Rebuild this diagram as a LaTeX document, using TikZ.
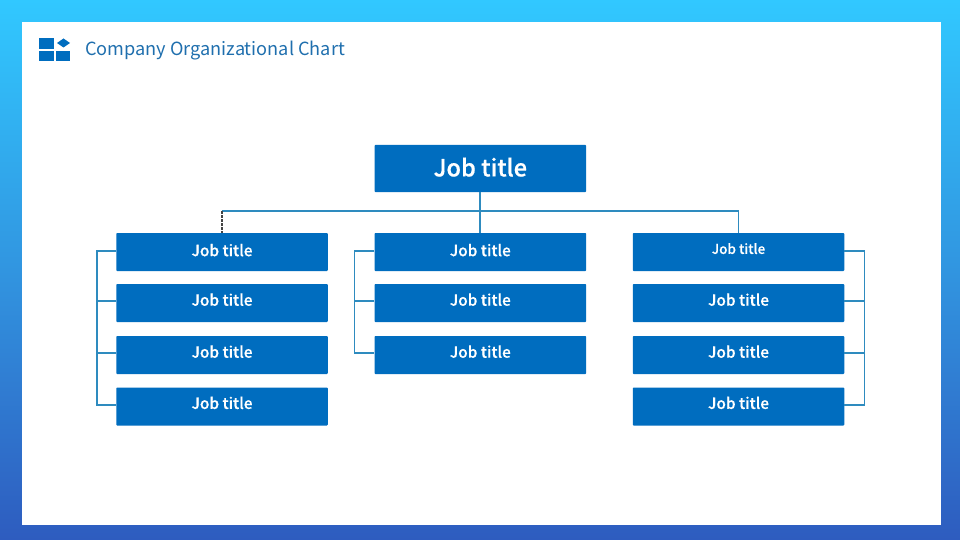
\documentclass[tikz,border=0pt]{standalone}
\usepackage{fontspec}
\setmainfont[BoldFont={Noto Sans CJK JP Medium},BoldFeatures={FakeBold=0.5}]{Noto Sans CJK JP}
\definecolor{boxblue}{HTML}{006DBF}
\definecolor{linkblue}{HTML}{2E8BBF}
\definecolor{titleblue}{HTML}{1F6FAE}
\definecolor{dashdark}{HTML}{444444}
\definecolor{bgtop}{HTML}{31C8FF}
\definecolor{bgmid}{HTML}{3195E0}
\definecolor{bgbot}{HTML}{2E5CBF}
\newcommand{\raisedtext}[2][6.9pt]{\raisebox{#1}{#2}}
\tikzset{
  jobbox/.style={fill=boxblue,draw=none,rounded corners=0.8pt,minimum width=211.5pt,minimum height=38pt,inner sep=0pt,text=white,font=\fontsize{15.4}{16}\selectfont\bfseries},
  topbox/.style={jobbox,minimum height=47pt,font=\fontsize{23.6}{24}\selectfont\bfseries},
  link/.style={draw=linkblue,line width=1.9pt},
  deco/.style={fill=boxblue,draw=none},
  up/.style={yshift=#1},
}
\begin{document}
\begin{tikzpicture}[x=1pt,y=-1pt]
\useasboundingbox (0,0) rectangle (960,540);
\shade[top color=bgtop,bottom color=bgbot,middle color=bgmid] (0,0) rectangle (960,540);
\fill[white] (22,22) rectangle (941,524.5);
% logo
\fill[deco] (38.5,38.5) rectangle (53.5,49);
\fill[deco] (38.5,51.5) rectangle (53.5,61);
\fill[deco] (56,51.5) rectangle (70,61);
\fill[deco] (63.5,38.5) -- (70,43) -- (63.5,47.5) -- (57,43) -- cycle;
\node[anchor=west,inner sep=0pt,text=titleblue,font=\fontsize{18.15}{20}\selectfont] (title) at (85,50.3) {Company Organizational Chart};
% boxes
\node[topbox] (top) at (480.3,168.5) {\raisedtext[3pt]{Job title}};
\node[jobbox] (a1) at (222,252) {\raisedtext[4pt]{Job title}};
\node[jobbox] (a2) at (222,303) {\raisedtext{Job title}};
\node[jobbox] (a3) at (222,355) {\raisedtext{Job title}};
\node[jobbox] (a4) at (222,406.5) {\raisedtext[7.5pt]{Job title}};
\node[jobbox] (b1) at (480.3,252) {\raisedtext[4pt]{Job title}};
\node[jobbox] (b2) at (480.3,303) {\raisedtext{Job title}};
\node[jobbox] (b3) at (480.3,355) {\raisedtext{Job title}};
\node[jobbox] (c1) at (738.5,252) {\raisedtext[7pt]{\fontsize{13.5}{14}\selectfont Job title}};
\node[jobbox] (c2) at (738.5,303) {\raisedtext{Job title}};
\node[jobbox] (c3) at (738.5,355) {\raisedtext{Job title}};
\node[jobbox] (c4) at (738.5,406.5) {\raisedtext[7.5pt]{Job title}};
% connectors
\coordinate (busl) at (222,211);
\coordinate (busr) at (738.5,211);
\coordinate (spa) at (97,251);
\coordinate (spb) at (354.5,251);
\coordinate (spc) at (864.5,251);
\draw[link] (top.south) -- (b1.north);
\draw[link] (busl) -- (busr) -- (c1.north);
\draw[dashdark,line width=1.6pt,dash pattern=on 3pt off 1pt] (busl) -- (a1.north);
\draw[link] ([up=1pt]a1.west) -- ([up=1pt]a1.west -| spa) -- ([up=1.5pt]a4.west -| spa) -- ([up=1.5pt]a4.west);
\draw[link] ([up=2pt]a2.west) -- ([up=2pt]a2.west -| spa);
\draw[link] ([up=2pt]a3.west) -- ([up=2pt]a3.west -| spa);
\draw[link] ([up=1pt]b1.west) -- ([up=1pt]b1.west -| spb) -- ([up=2pt]b3.west -| spb) -- ([up=2pt]b3.west);
\draw[link] ([up=2pt]b2.west) -- ([up=2pt]b2.west -| spb);
\draw[link] ([up=1pt]c1.east) -- ([up=1pt]c1.east -| spc) -- ([up=1.5pt]c4.east -| spc) -- ([up=1.5pt]c4.east);
\draw[link] ([up=2pt]c2.east) -- ([up=2pt]c2.east -| spc);
\draw[link] ([up=2pt]c3.east) -- ([up=2pt]c3.east -| spc);
\end{tikzpicture}
\end{document}
